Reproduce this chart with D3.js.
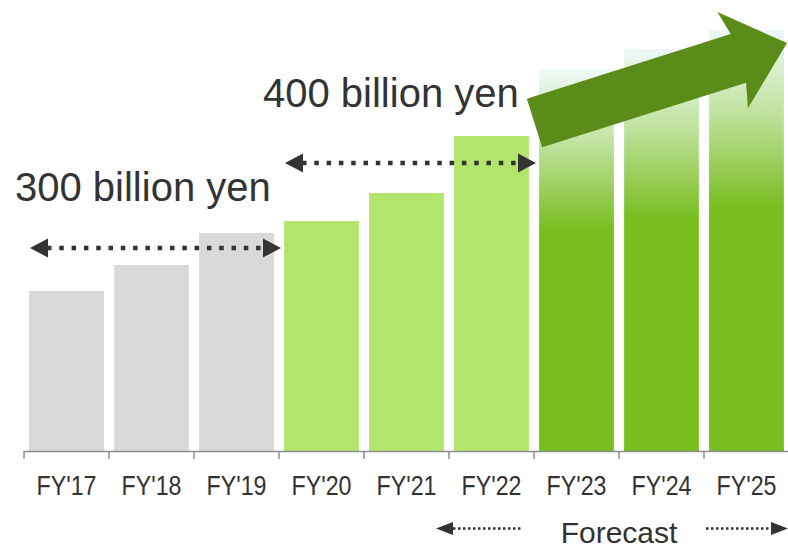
<!DOCTYPE html>
<html>
<head>
<meta charset="utf-8">
<script src="https://cdn.jsdelivr.net/npm/d3@7"></script>
<style>
  html, body { margin: 0; padding: 0; background: #fff; }
  svg { display: block; font-family: "Liberation Sans", Arial, sans-serif; }
</style>
</head>
<body>
<svg id="chart" width="788" height="549"></svg>
<script>
// fiscal years and bar heights (arbitrary units)
const years = ["FY'17", "FY'18", "FY'19", "FY'20", "FY'21", "FY'22", "FY'23", "FY'24", "FY'25"];
const values = [160, 186, 218, 230, 258, 315, 382, 402, 421];
const kinds = ["past", "past", "past", "plan", "plan", "plan", "forecast", "forecast", "forecast"];

// range annotations
const ranges = [
    { label: "300 billion yen", from: "FY'17", to: "FY'19", level: 203, labelLevel: 250 },
    { label: "400 billion yen", from: "FY'20", to: "FY'22", level: 288, labelLevel: 344 }
];
const forecastLabel = "Forecast";

const colors = { past: "#d9d9d9", plan: "#b1e56c", forecast: "url(#fcGrad)" };
const textColor = "#333333";

var svg = d3.select('#chart');
var width = 788, height = 549;
var baseY = 451;

var x = d3.scaleBand()
    .domain(years)
    .range([24, 789])
    .paddingInner(0.12)
    .paddingOuter(0.06);

var y = d3.scaleLinear()
    .domain([0, 450])
    .range([baseY, baseY - 450]);

var gap = (x.step() - x.bandwidth()) / 2;
function left(d) { return x(d) - gap; }          // band boundary
function right(d) { return x(d) + x.bandwidth() + gap; }

// gradient for forecast bars
var defs = svg.append('defs');
var grad = defs.append('linearGradient')
    .attr('id', 'fcGrad')
    .attr('x1', 0).attr('y1', 0).attr('x2', 0).attr('y2', 1);
grad.append('stop').attr('offset', '0').attr('stop-color', '#eef9f7');
grad.append('stop').attr('offset', '0.2').attr('stop-color', '#bfe29c');
grad.append('stop').attr('offset', '0.42').attr('stop-color', '#79bd21');
grad.append('stop').attr('offset', '1').attr('stop-color', '#79bd21');

var bars = years.map((d, i) => ({ year: d, value: values[i], kind: kinds[i] }));

svg.append('g')
    .selectAll('rect')
    .data(bars)
    .enter().append('rect')
    .attr('x', d => x(d.year))
    .attr('y', d => y(d.value))
    .attr('width', x.bandwidth())
    .attr('height', d => baseY - y(d.value))
    .attr('fill', d => colors[d.kind]);

// axis line + boundary ticks
var axis = svg.append('g').attr('stroke', '#8f8f8f').attr('stroke-width', 1.5);
axis.append('line')
    .attr('x1', left(years[0])).attr('x2', width)
    .attr('y1', baseY + 0.5).attr('y2', baseY + 0.5);
axis.selectAll('.tick')
    .data(years)
    .enter().append('line')
    .attr('x1', d => left(d)).attr('x2', d => left(d))
    .attr('y1', baseY).attr('y2', baseY + 8);

// category labels (narrow face)
svg.append('g')
    .selectAll('text')
    .data(years)
    .enter().append('text')
    .attr('transform', d => `translate(${x(d) + x.bandwidth() / 2}, 495) scale(0.86, 1)`)
    .attr('text-anchor', 'middle')
    .attr('font-size', 27)
    .attr('fill', textColor)
    .text(d => d);

function arrowHead(g, tipX, cy, dir, len, half) {
    g.append('path')
        .attr('d', `M${tipX},${cy} L${tipX - dir * len},${cy - half} L${tipX - dir * len},${cy + half} Z`)
        .attr('fill', textColor);
}

// dotted double arrows
ranges.forEach(r => {
    var x0 = left(r.from) + 6, x1 = right(r.to) + 2;
    var cy = y(r.level);
    var g = svg.append('g');
    g.append('line')
        .attr('x1', x0 + 17).attr('x2', x1 - 17)
        .attr('y1', cy).attr('y2', cy)
        .attr('stroke', textColor)
        .attr('stroke-width', 4.5)
        .attr('stroke-dasharray', '4.5,7.8');
    arrowHead(g, x0, cy, -1, 18, 9.5);
    arrowHead(g, x1, cy, 1, 18, 9.5);
});

svg.append('text')
    .attr('x', 15).attr('y', y(ranges[0].labelLevel))
    .attr('font-size', 40)
    .attr('fill', textColor)
    .text(ranges[0].label);
svg.append('text')
    .attr('x', 263).attr('y', y(ranges[1].labelLevel))
    .attr('font-size', 40)
    .attr('fill', textColor)
    .text(ranges[1].label);

// big growth arrow over the forecast bars
var aFrom = [left("FY'23") + 0.5, y(328)];
var aTo = [width - 1, y(408)];
var dx = aTo[0] - aFrom[0], dy = aTo[1] - aFrom[1];
var L = Math.sqrt(dx * dx + dy * dy);
var ux = dx / L, uy = dy / L, nx = -uy, ny = ux;
var shaftW = 51, headW = 101, headL = 51;
function pt(t, s) { return [aFrom[0] + ux * t + nx * s, aFrom[1] + uy * t + ny * s]; }
var arrowPts = [
    pt(0, -shaftW / 2), pt(L - headL, -shaftW / 2), pt(L - headL - 6, -headW / 2),
    pt(L, 0),
    pt(L - headL - 6, headW / 2), pt(L - headL, shaftW / 2), pt(0, shaftW / 2)
];
svg.append('polygon')
    .attr('points', arrowPts.map(p => p.join(',')).join(' '))
    .attr('fill', '#5b8c1a');

// forecast marker
var fy = 528.5;
var fg = svg.append('g');
var fx0 = left("FY'22") - 13, fx1 = left("FY'22") + 72;
fg.append('line')
    .attr('x1', fx0 + 17).attr('x2', fx1)
    .attr('y1', fy).attr('y2', fy)
    .attr('stroke', textColor).attr('stroke-width', 2.5)
    .attr('stroke-dasharray', '2.5,2.5');
arrowHead(fg, fx0, fy, -1, 17, 6.5);
var rx0 = right("FY'24") + 2, rx1 = width;
fg.append('line')
    .attr('x1', rx0).attr('x2', rx1 - 16)
    .attr('y1', fy).attr('y2', fy)
    .attr('stroke', textColor).attr('stroke-width', 2.5)
    .attr('stroke-dasharray', '2.5,2.5');
arrowHead(fg, rx1, fy, 1, 17, 6.5);

fg.append('text')
    .attr('x', x("FY'23") + x.bandwidth() + gap).attr('y', 543)
    .attr('text-anchor', 'middle')
    .attr('font-size', 30)
    .attr('fill', textColor)
    .text(forecastLabel);
</script>
</body>
</html>
